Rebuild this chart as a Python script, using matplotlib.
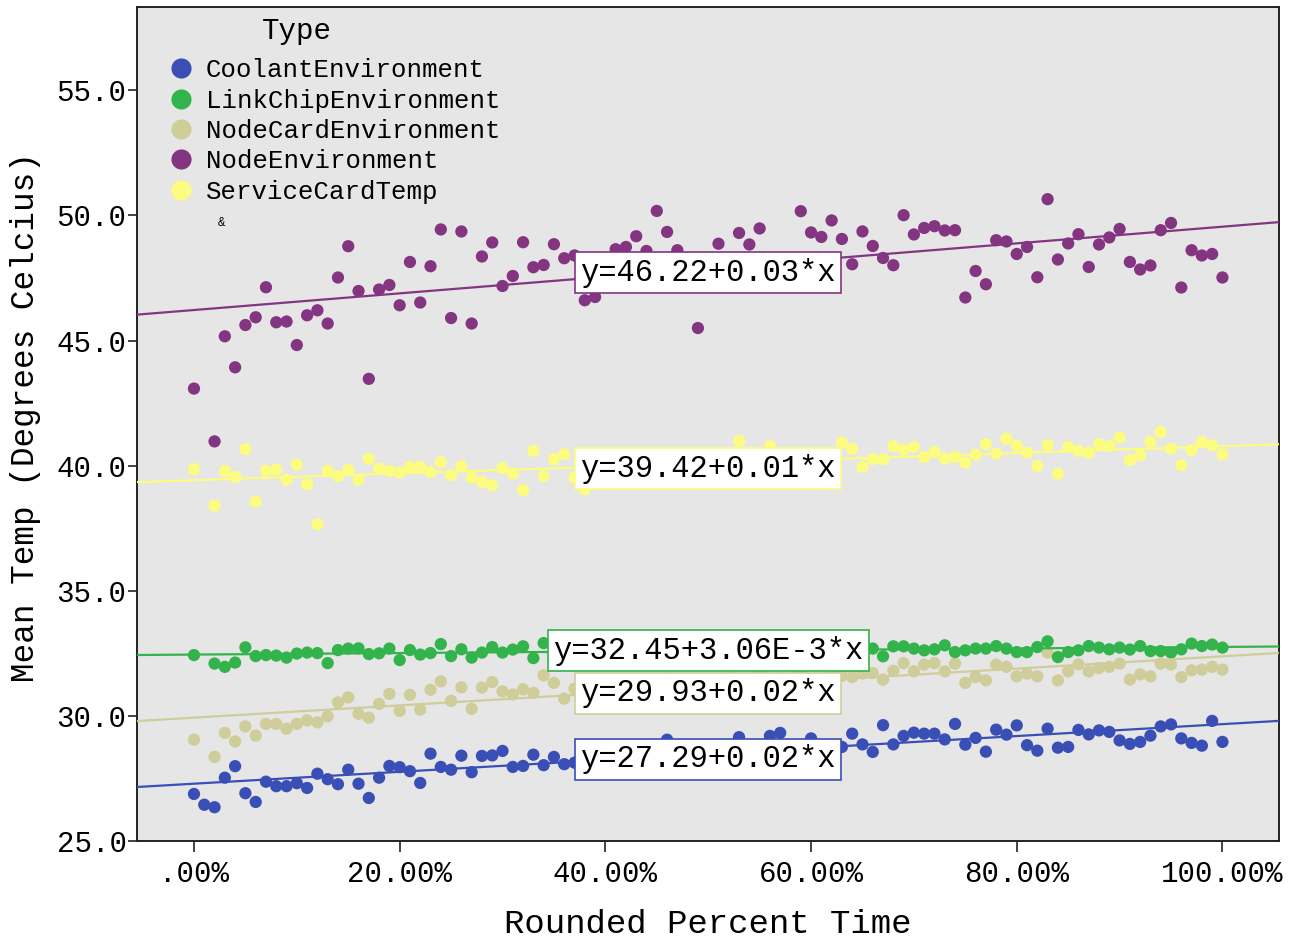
import matplotlib
matplotlib.use("Agg")
import matplotlib.pyplot as plt
from matplotlib.lines import Line2D

nan = float("nan")

# Rounded percent of run time (0..100 %)
pct_time = list(range(101))

coolant_env = [
    26.88, 26.45, 26.35, 27.53, 27.99, 26.91, 26.56, 27.37, 27.19, 27.19,
    27.31, 27.12, 27.69, 27.47, 27.27, 27.85, 27.29, 26.72, 27.53, 28.00,
    27.95, 27.79, 27.32, 28.49, 27.96, 27.85, 28.41, 27.75, 28.40, 28.42,
    28.60, 27.96, 28.00, 28.45, 28.03, 28.36, 28.07, 28.13, 28.20, 28.35,
    28.10, 28.55, 28.30, 28.60, 28.25, 28.45, 29.05, 28.40, 28.65, 28.30,
    28.55, 28.70, 28.45, 29.15, 28.60, 28.75, 29.20, 29.32, 28.65, 28.80,
    29.10, 28.70, 28.82, 28.76, 29.29, 28.86, 28.56, 29.63, 28.86, 29.20,
    29.33, 29.29, 29.29, 29.06, 29.68, 28.85, 29.12, 28.57, 29.45, 29.25,
    29.62, 28.83, 28.61, 29.49, 28.73, 28.76, 29.44, 29.26, 29.42, 29.36,
    29.02, 28.88, 28.96, 29.21, 29.58, 29.66, 29.10, 28.92, 28.81, 29.80,
    28.96,
]

linkchip_env = [
    32.43, nan, 32.09, 31.96, 32.13, 32.74, 32.39, 32.43, 32.41, 32.33,
    32.49, 32.53, 32.51, 32.11, 32.63, 32.69, 32.70, 32.47, 32.50, 32.69,
    32.23, 32.63, 32.45, 32.51, 32.87, 32.39, 32.66, 32.33, 32.53, 32.75,
    32.53, 32.65, 32.78, 32.31, 32.91, 32.55, 32.70, 32.45, 32.60, 32.75,
    32.50, 32.65, 32.58, 32.72, 32.48, 32.62, 32.80, 32.55, 32.68, 32.50,
    32.74, 32.60, 32.66, 32.52, 32.78, 32.58, 32.70, 32.62, 32.48, 32.75,
    32.64, 32.56, 32.72, 32.60, 32.68, 32.66, 32.69, 32.38, 32.78, 32.78,
    32.69, 32.62, 32.66, 32.82, 32.55, 32.62, 32.69, 32.69, 32.79, 32.69,
    32.55, 32.55, 32.75, 32.98, 32.35, 32.55, 32.62, 32.79, 32.73, 32.66,
    32.73, 32.65, 32.79, 32.59, 32.59, 32.53, 32.66, 32.89, 32.79, 32.85,
    32.73,
]

nodecard_env = [
    29.05, nan, 28.36, 29.32, 28.98, 29.58, 29.21, 29.68, 29.68, 29.49,
    29.68, 29.82, 29.74, 29.98, 30.54, 30.74, 30.08, 29.93, 30.48, 30.88,
    30.20, 30.84, 30.25, 31.04, 31.38, 30.60, 31.14, 30.28, 31.13, 31.35,
    30.98, 30.86, 31.06, 30.92, 31.62, 31.32, 30.69, 31.09, 30.85, 31.20,
    30.95, 31.40, 31.05, 30.80, 31.30, 31.15, 31.50, 30.90, 31.25, 31.45,
    31.10, 31.35, 31.55, 31.00, 31.40, 31.60, 31.20, 31.50, 31.30, 31.65,
    31.45, 31.25, 31.55, 31.60, 31.55, 31.70, 31.71, 31.45, 31.80, 32.11,
    31.78, 32.05, 32.11, 31.78, 32.09, 31.32, 31.55, 31.42, 32.05, 31.96,
    31.58, 31.69, 31.58, 32.53, 31.42, 31.78, 32.06, 31.78, 31.91, 31.96,
    32.09, 31.45, 31.66, 31.58, 32.09, 32.05, 31.55, 31.82, 31.85, 31.96,
    31.85,
]

node_env = [
    43.08, nan, 40.97, 45.17, 43.93, 45.62, 45.93, 47.13, 45.73, 45.76,
    44.82, 46.01, 46.21, 45.68, 47.52, 48.77, 46.98, 43.47, 47.04, 47.22,
    46.41, 48.14, 46.52, 47.97, 49.44, 45.90, 49.36, 45.68, 48.36, 48.92,
    47.18, 47.58, 48.93, 47.93, 48.02, 48.85, 48.29, 48.40, 46.61, 46.74,
    47.60, 48.65, 48.74, 49.17, 48.58, 50.18, 49.34, 48.61, 47.90, 45.50,
    47.40, 48.87, 48.10, 49.30, 48.84, 49.48, 47.70, 48.00, 47.80, 50.17,
    49.32, 49.14, 49.80, 49.06, 48.05, 49.36, 48.78, 48.30, 48.01, 50.01,
    49.24, 49.50, 49.57, 49.40, 49.41, 46.72, 47.78, 47.25, 49.01, 48.96,
    48.46, 48.74, 47.53, 50.65, 48.24, 48.88, 49.25, 47.94, 48.84, 49.12,
    49.46, 48.14, 47.84, 48.00, 49.41, 49.70, 47.12, 48.61, 48.40, 48.46,
    47.52,
]

servicecard_temp = [
    39.86, nan, 38.40, 39.79, 39.55, 40.66, 38.56, 39.80, 39.84, 39.44,
    40.04, 39.26, 37.66, 39.79, 39.58, 39.83, 39.44, 40.28, 39.88, 39.79,
    39.72, 39.95, 39.95, 39.75, 40.15, 39.62, 39.98, 39.52, 39.35, 39.22,
    39.91, 39.68, 39.02, 40.59, 39.58, 40.26, 40.46, 39.52, 39.06, 40.05,
    39.80, 40.20, 39.95, 40.10, 39.70, 40.30, 39.90, 40.15, 39.85, 40.25,
    40.00, 39.75, 40.20, 40.99, 39.95, 40.35, 40.78, 40.10, 39.90, 40.30,
    40.05, 40.40, 40.15, 40.92, 40.67, 39.95, 40.26, 40.26, 40.78, 40.64,
    40.75, 40.35, 40.55, 40.28, 40.35, 40.12, 40.44, 40.86, 40.48, 41.08,
    40.79, 40.52, 39.99, 40.82, 39.68, 40.75, 40.59, 40.52, 40.86, 40.79,
    41.12, 40.22, 40.42, 40.95, 41.35, 40.68, 40.02, 40.62, 40.95, 40.82,
    40.46,
]

type_names = ["CoolantEnvironment", "LinkChipEnvironment", "NodeCardEnvironment",
              "NodeEnvironment", "ServiceCardTemp"]
type_values = [coolant_env, linkchip_env, nodecard_env, node_env, servicecard_temp]
type_colors = ["#3a4fb6", "#33b34b", "#cfcd9a", "#843582", "#fcfc80"]

# Linear fit per type: intercept and slope
fit_intercepts = [27.29, 32.45, 29.93, 46.22, 39.42]
fit_slopes = [0.0238, 0.00306, 0.0245, 0.0333, 0.0136]

x_ticks = [0, 20, 40, 60, 80, 100]
x_tick_labels = [".00%", "20.00%", "40.00%", "60.00%", "80.00%", "100.00%"]
y_ticks = [25, 30, 35, 40, 45, 50, 55]
y_tick_labels = ["25.0", "30.0", "35.0", "40.0", "45.0", "50.0", "55.0"]


def fmt_coef(v):
    if abs(v) < 0.01:
        mant, exp = f"{v:.2E}".split("E")
        return f"{mant}E{int(exp)}"
    return f"{v:.2f}"


MONO = ["Liberation Mono", "DejaVu Sans Mono"]
plt.rcParams["font.family"] = MONO

fig = plt.figure(figsize=(12.94, 9.38), dpi=100)
ax = fig.add_axes([137 / 1294, 97 / 938, 1142 / 1294, 834 / 938])
ax.set_facecolor("#e6e6e6")

xmin, xmax = -5.54, 105.5
ax.set_xlim(xmin, xmax)
ax.set_ylim(25.0, 58.33)

# scatter points (node card drawn beneath link chip)
point_z = [3, 3.2, 3.1, 3.3, 3.4]
for vals, col, z in zip(type_values, type_colors, point_z):
    ax.scatter(pct_time, vals, s=78, color=col, edgecolors="none", zorder=z)

# fit lines and equation labels
label_dy_px = [-5.4, 0.0, -6.3, -4.4, -5.6]
for b, m, col, dy in zip(fit_intercepts, fit_slopes, type_colors, label_dy_px):
    ax.plot([xmin, xmax], [b + m * xmin, b + m * xmax], color=col, lw=1.6,
            zorder=4, solid_capstyle="butt")
    ax.annotate(f"y={b:.2f}+{fmt_coef(m)}*x", xy=(50, b + m * 50),
                xytext=(0, dy * 0.72), textcoords="offset points",
                ha="center", va="center", fontsize=22, color="black",
                zorder=6,
                bbox=dict(boxstyle="square,pad=0.18", facecolor="white",
                          edgecolor=col, linewidth=1.2))

ax.set_xticks(x_ticks)
ax.set_xticklabels(x_tick_labels)
ax.set_yticks(y_ticks)
ax.set_yticklabels(y_tick_labels)
ax.tick_params(axis="both", direction="out", width=1.2,
               color="#222222", labelsize=21, labelcolor="black")
ax.tick_params(axis="y", length=6.5, pad=1)
ax.tick_params(axis="x", length=8, pad=6)

for sp in ax.spines.values():
    sp.set_color("#222222")
    sp.set_linewidth(1.4)

ax.set_xlabel("Rounded Percent Time", fontsize=24.5, labelpad=15)
ax.set_ylabel("Mean Temp (Degrees Celcius)", fontsize=23.5)
ax.yaxis.set_label_coords((41 - 137) / 1142, 1 - (417.5 - 7) / 834)

# legend
handles = [Line2D([], [], linestyle="none", marker="o", markersize=14.5,
                  markerfacecolor=c, markeredgecolor="none") for c in type_colors]
leg = ax.legend(handles, type_names, loc="upper left",
                bbox_to_anchor=(0.018, 0.951), frameon=False, fontsize=18.5,
                handlelength=1.0, handletextpad=0.49, labelspacing=0.25,
                borderaxespad=0.0)
leg.set_zorder(7)
ax.text((297 - 137) / 1142, 1 - (31 - 7) / 834, "Type", transform=ax.transAxes,
        ha="center", va="center", fontsize=21, zorder=7)
ax.text((222 - 137) / 1142, 1 - (223 - 7) / 834, "&", transform=ax.transAxes,
        ha="center", va="center", fontsize=9, zorder=7)

fig.savefig("out.png", dpi=100)
